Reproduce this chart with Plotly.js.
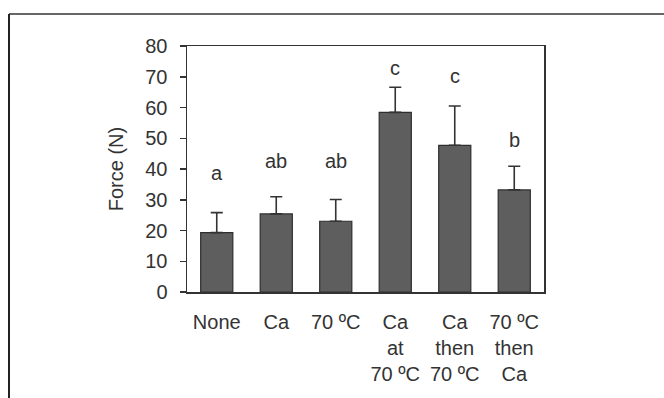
<!DOCTYPE html>
<html>
<head>
<meta charset="utf-8">
<script src="https://cdn.plot.ly/plotly-3.0.1.min.js"></script>
<style>
html,body{margin:0;padding:0;background:#fff;}
#chart{width:664px;height:398px;}
</style>
</head>
<body>
<div id="chart"></div>
<script>
var categories = ["None", "Ca", "70 ºC", "Ca at 70 ºC", "Ca then 70 ºC", "70 ºC then Ca"];
var tickLabels = ["None", "Ca", "70 ºC", "Ca<br>at<br>70 ºC", "Ca<br>then<br>70 ºC", "70 ºC<br>then<br>Ca"];
var forceMean = [19.3, 25.4, 23.0, 58.4, 47.7, 33.2];
var forceErr = [6.5, 5.6, 7.1, 8.2, 12.8, 7.7];
var groupLetters = ["a", "ab", "ab", "c", "c", "b"];
var letterY = [38.6, 42.6, 42.6, 73.0, 70.1, 49.3];

var textColor = "#333333";
var fontFam = "Liberation Sans, Arial, sans-serif";
var fs = 20;

var trace = {
  type: "bar",
  x: categories,
  y: forceMean,
  marker: {color: "#5e5e5e", line: {color: "#2e2e2e", width: 1.2}},
  error_y: {type: "data", symmetric: false, array: forceErr, arrayminus: forceErr.map(function(){return 0;}), color: "#333333", thickness: 1.6, width: 6},
  hoverinfo: "skip"
};

var annotations = categories.map(function(c, i){
  return {x: c, y: letterY[i], xref: "x", yref: "y", text: groupLetters[i], showarrow: false,
          yanchor: "middle", font: {family: fontFam, size: fs, color: textColor}};
});

var L = 187, R = 544, T = 46, B = 292;
function px2x(p){ return (p - L) / (R - L); }
function py2y(p){ return (B - p) / (B - T); }

var layout = {
  width: 664, height: 398,
  margin: {l: L, r: 664 - R, t: T, b: 398 - B, pad: 0},
  paper_bgcolor: "#ffffff", plot_bgcolor: "#ffffff",
  showlegend: false,
  bargap: 0.46,
  font: {family: fontFam, size: fs, color: textColor},
  xaxis: {
    type: "category",
    tickvals: categories, ticktext: tickLabels,
    showline: true, linecolor: "#333333", linewidth: 1.5, mirror: true,
    ticks: "", showgrid: false, zeroline: false,
    ticklabelstandoff: 11,
    tickfont: {family: fontFam, size: fs, color: textColor},
    fixedrange: true
  },
  yaxis: {
    range: [0, 80], dtick: 10, tick0: 0,
    showline: true, linecolor: "#333333", linewidth: 1.5, mirror: true,
    ticks: "outside", ticklen: 6, tickwidth: 1.5, tickcolor: "#333333",
    showgrid: false, zeroline: false,
    ticklabelstandoff: 8,
    tickfont: {family: fontFam, size: fs, color: textColor},
    title: {text: "Force (N)", font: {family: fontFam, size: fs, color: textColor}, standoff: 16},
    fixedrange: true
  },
  annotations: annotations,
  shapes: [
    {type: "line", xref: "paper", yref: "paper", x0: px2x(9), x1: px2x(664), y0: py2y(14), y1: py2y(14), line: {color: "#666666", width: 2}},
    {type: "line", xref: "paper", yref: "paper", x0: px2x(9), x1: px2x(9), y0: py2y(14), y1: py2y(398), line: {color: "#222222", width: 2}}
  ]
};

Plotly.newPlot("chart", [trace], layout, {staticPlot: true, displayModeBar: false});
</script>
</body>
</html>
